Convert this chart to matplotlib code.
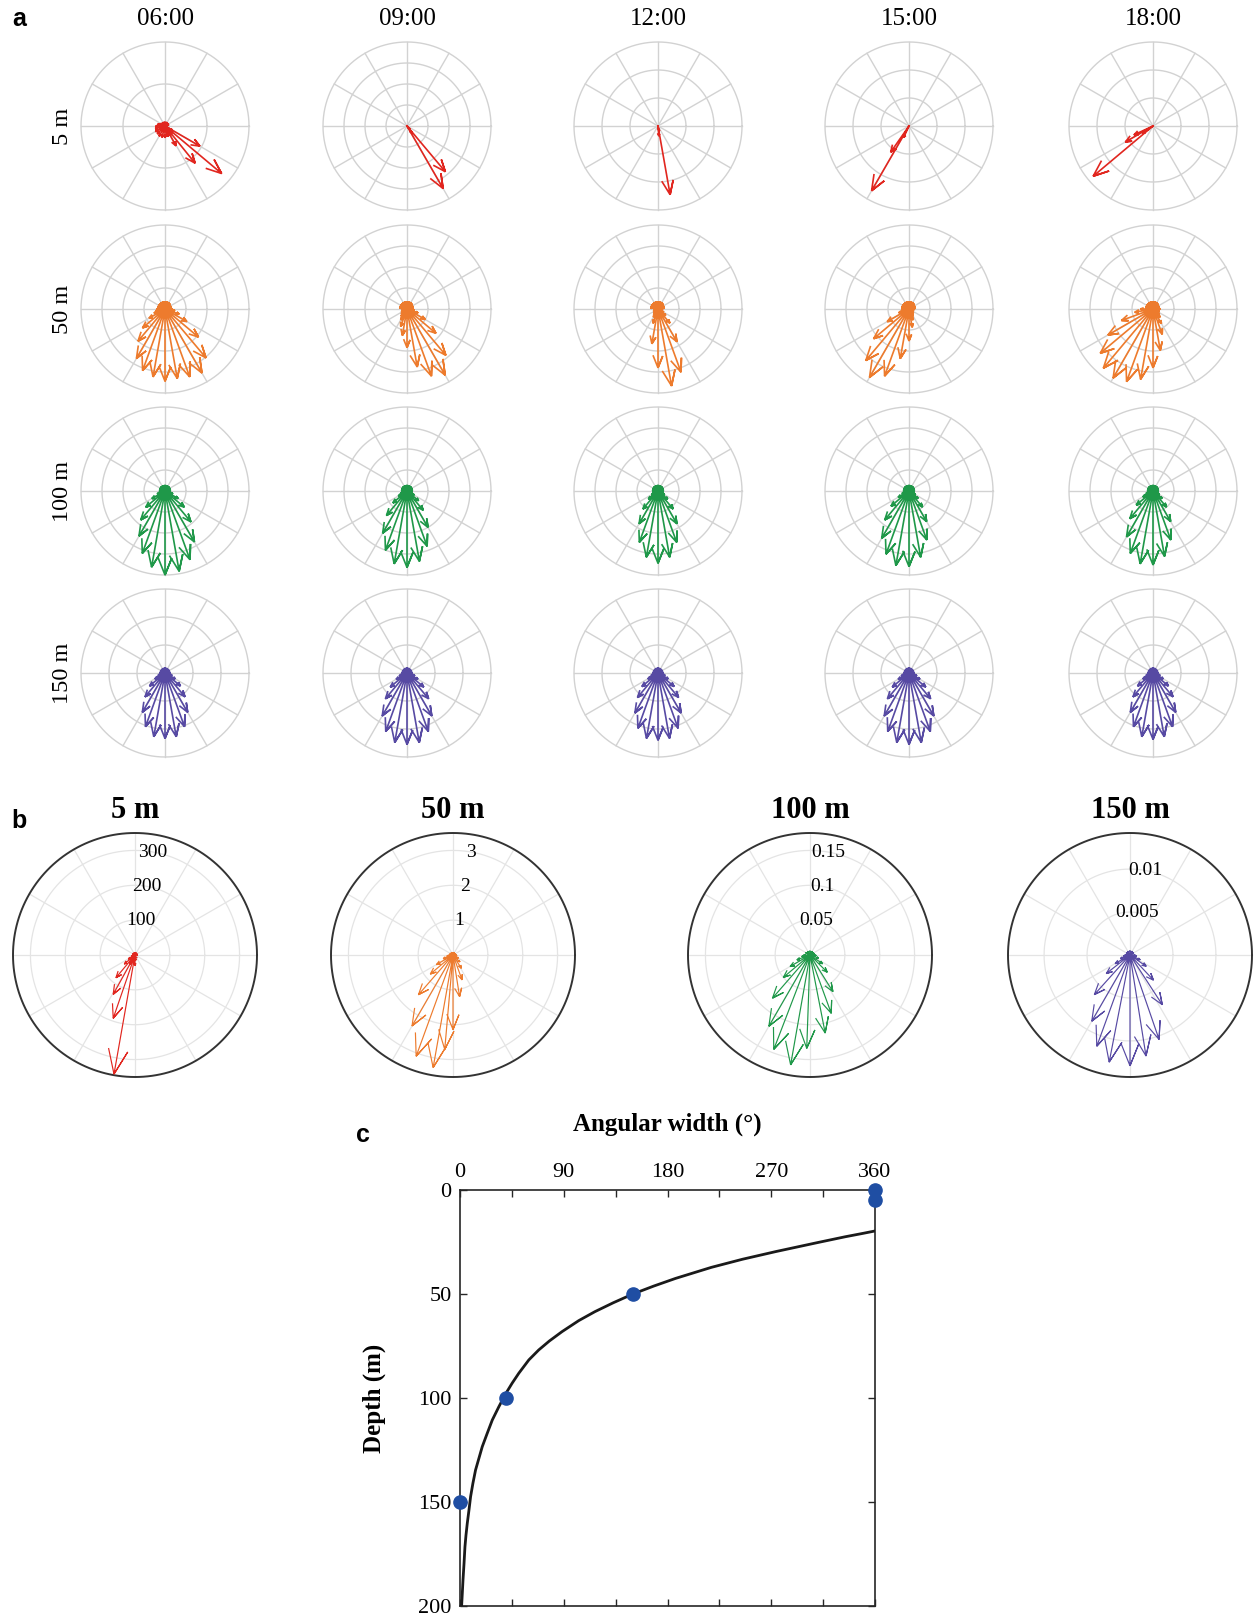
import numpy as np
import matplotlib
matplotlib.use('Agg')
import matplotlib.pyplot as plt

# ---------------- data ----------------
TIMES = ['06:00', '09:00', '12:00', '15:00', '18:00']
DEPTHS = ['5 m', '50 m', '100 m', '150 m']
COLORS = ['#e1261f', '#ed7b2d', '#1f9849', '#574aa3']

# panel a, 5 m: individual vectors (direction in deg, length as fraction of outer ring)
A5_DIRS = [
    [-30, -40, -51, -61, 150, 165, 180, 195, 210, 225, 240, 255, 270, 285, 300, 315, 330, 20, 45, 70, 100, 125],
    [-50, -60, -55, -45],
    [-80, -85, -75],
    [-120, -125, -115],
    [-140, -150, -155, -145],
]
A5_LENS = [
    [0.48, 0.88, 0.57, 0.27, 0.06, 0.09, 0.11, 0.12, 0.13, 0.13, 0.14, 0.14, 0.14, 0.13, 0.13, 0.12, 0.1, 0.05, 0.05, 0.05, 0.05, 0.05],
    [0.71, 0.86, 0.10, 0.05],
    [0.83, 0.12, 0.06],
    [0.89, 0.38, 0.15],
    [0.93, 0.38, 0.25, 0.15],
]

# panels a, 50/100/150 m: vectors every 10 deg
FAN_DIRS_LOW = [-180, -170, -160, -150, -140, -130, -120, -110, -100, -90,
                -80, -70, -60, -50, -40, -30, -20, -10, 0]
FAN_DIRS_UP = [10, 20, 30, 40, 50, 60, 70, 80, 90, 100, 110, 120, 130, 140, 150, 160, 170]

A50_LENS = [
    [0.10, 0.11, 0.14, 0.22, 0.35, 0.50, 0.68, 0.78, 0.82, 0.86, 0.84, 0.86, 0.88, 0.76, 0.52, 0.30, 0.18, 0.12, 0.09],
    [0.06, 0.06, 0.07, 0.08, 0.09, 0.11, 0.15, 0.22, 0.32, 0.46, 0.70, 0.85, 0.91, 0.72, 0.45, 0.25, 0.14, 0.09, 0.07],
    [0.05, 0.05, 0.06, 0.06, 0.07, 0.08, 0.11, 0.18, 0.42, 0.70, 0.93, 0.80, 0.45, 0.22, 0.12, 0.08, 0.06, 0.05, 0.05],
    [0.08, 0.09, 0.13, 0.30, 0.55, 0.80, 0.94, 0.85, 0.60, 0.38, 0.22, 0.14, 0.10, 0.08, 0.07, 0.06, 0.06, 0.06, 0.07],
    [0.15, 0.22, 0.40, 0.62, 0.82, 0.92, 0.95, 0.92, 0.85, 0.70, 0.50, 0.32, 0.20, 0.13, 0.10, 0.08, 0.08, 0.08, 0.09],
]
A50_BLOB = [0.08, 0.08, 0.08, 0.08, 0.09, 0.09, 0.09, 0.09, 0.09, 0.09, 0.09, 0.09, 0.09, 0.09, 0.09, 0.09, 0.09]

A100_LENS = [
    [0.06, 0.07, 0.10, 0.18, 0.30, 0.45, 0.62, 0.79, 0.92, 1.00, 0.97, 0.87, 0.70, 0.48, 0.30, 0.18, 0.10, 0.07, 0.06],
    [0.06, 0.06, 0.08, 0.12, 0.22, 0.38, 0.58, 0.75, 0.88, 0.91, 0.85, 0.70, 0.50, 0.30, 0.18, 0.10, 0.07, 0.06, 0.06],
    [0.06, 0.06, 0.07, 0.09, 0.15, 0.28, 0.45, 0.65, 0.80, 0.86, 0.80, 0.65, 0.45, 0.28, 0.15, 0.09, 0.07, 0.06, 0.06],
    [0.06, 0.07, 0.09, 0.15, 0.28, 0.45, 0.65, 0.80, 0.90, 0.90, 0.80, 0.62, 0.42, 0.25, 0.14, 0.09, 0.07, 0.06, 0.06],
    [0.06, 0.07, 0.09, 0.14, 0.26, 0.43, 0.63, 0.79, 0.88, 0.88, 0.79, 0.62, 0.42, 0.25, 0.14, 0.09, 0.07, 0.06, 0.06],
]
A100_BLOB = [0.07, 0.07, 0.07, 0.07, 0.07, 0.07, 0.07, 0.07, 0.07, 0.07, 0.07, 0.07, 0.07, 0.07, 0.07, 0.07, 0.07]

A150_LENS = [
    [0.06, 0.07, 0.09, 0.14, 0.24, 0.37, 0.54, 0.68, 0.77, 0.78, 0.77, 0.68, 0.54, 0.37, 0.24, 0.14, 0.09, 0.07, 0.06],
    [0.06, 0.07, 0.10, 0.15, 0.26, 0.40, 0.59, 0.74, 0.84, 0.85, 0.84, 0.74, 0.59, 0.40, 0.26, 0.15, 0.10, 0.07, 0.06],
    [0.06, 0.07, 0.09, 0.14, 0.25, 0.38, 0.55, 0.70, 0.79, 0.80, 0.79, 0.70, 0.55, 0.38, 0.25, 0.14, 0.09, 0.07, 0.06],
    [0.06, 0.07, 0.10, 0.15, 0.26, 0.40, 0.59, 0.74, 0.84, 0.85, 0.84, 0.74, 0.59, 0.40, 0.26, 0.15, 0.10, 0.07, 0.06],
    [0.06, 0.07, 0.09, 0.14, 0.24, 0.37, 0.54, 0.68, 0.77, 0.79, 0.77, 0.68, 0.54, 0.37, 0.24, 0.14, 0.09, 0.07, 0.06],
]
A150_BLOB = [0.06, 0.06, 0.06, 0.06, 0.06, 0.06, 0.06, 0.06, 0.06, 0.06, 0.06, 0.06, 0.06, 0.06, 0.06, 0.06, 0.06]

A_RINGS = [[2, 4, 3, 3, 3], [4, 4, 4, 4, 4], [4, 4, 4, 4, 4], [3, 3, 3, 3, 3]]

# panel b: vectors in physical units
B5_DIRS = [-100, -109, -119, -130, -140, -150, -90, -80, -160, -120, 170, 135, 90, 45, 0, -60]
B5_LENS = [347, 192, 129, 85, 40, 22, 30, 15, 12, 30, 8, 8, 8, 8, 8, 10]
B50_DIRS = [-170, -160, -150, -140, -131, -120, -110, -100, -95, -90, -81, -70, -58, -45, -30, -15,
            0, 30, 60, 90, 120, 150, 180]
B50_LENS = [0.18, 0.30, 0.55, 0.85, 1.51, 2.35, 3.09, 3.28, 2.72, 2.14, 1.21, 0.76, 0.45, 0.28, 0.18, 0.12,
            0.10, 0.08, 0.08, 0.08, 0.08, 0.10, 0.12]
B100_DIRS = [-170, -160, -150, -140, -131, -120, -111, -100, -92, -79, -70, -58, -45, -35, -20, -5,
             10, 30, 60, 90, 120, 150, 180]
B100_LENS = [0.012, 0.020, 0.033, 0.050, 0.082, 0.118, 0.145, 0.160, 0.134, 0.114, 0.089, 0.062, 0.035, 0.022, 0.013, 0.009,
             0.007, 0.006, 0.006, 0.006, 0.006, 0.007, 0.009]
B150_DIRS = [-170, -160, -150, -142, -132, -120, -110, -101, -90, -81, -71, -57, -47, -35, -25, -12,
             0, 30, 60, 90, 120, 150, 180]
B150_LENS = [0.0008, 0.0012, 0.0020, 0.0035, 0.0062, 0.0089, 0.0113, 0.0127, 0.0129, 0.0119, 0.0104, 0.0069, 0.0040, 0.0023, 0.0013, 0.0008,
             0.0006, 0.0005, 0.0005, 0.0005, 0.0005, 0.0005, 0.0006]
B_RMAX = [350, 3.5, 0.175, 0.0142]
B_RINGS = [[100, 200, 300], [1, 2, 3], [0.05, 0.1, 0.15], [0.005, 0.01]]
B_RING_LABELS = [['100', '200', '300'], ['1', '2', '3'], ['0.05', '0.1', '0.15'], ['0.005', '0.01']]

# panel c
CURVE_DEPTH = [19.7, 20.8, 22.5, 25.3, 29.6, 33.3, 37.2, 42.5, 46.2, 50.0, 54.2, 58.5, 62.8, 68.1, 72.6, 76.9,
               81.7, 88.1, 92.9, 97.8, 104.2, 110.6, 117.0, 123.4, 129.0, 134.6, 141.0, 147.4, 153.8,
               160.3, 165.9, 171.5, 179.5, 187.5, 193.9, 200.0]
CURVE_WIDTH = [360, 350, 334, 310, 274, 245, 218, 187, 168, 150, 133, 117, 103, 88.5, 77.5, 68.3,
               59.7, 51.0, 45.2, 39.8, 33.7, 28.0, 23.6, 19.3, 16.4, 13.5, 11.2, 9.2, 7.8,
               6.3, 5.2, 4.3, 3.5, 2.6, 2.0, 1.4]
POINT_DEPTH = [0, 5, 50, 100, 150]
POINT_WIDTH = [360, 360, 150, 40, 0]

# ---------------- drawing ----------------
W, H = 1260, 1617
fig = plt.figure(figsize=(W / 100, H / 100), dpi=100)
SERIF = ['Liberation Serif', 'DejaVu Serif']
SANS = ['Liberation Sans', 'DejaVu Sans']


def circ_axes(cx, cy, rpx, rmax):
    pad = 1.04
    h = rpx * pad
    ax = fig.add_axes([(cx - h) / W, 1 - (cy + h) / H, 2 * h / W, 2 * h / H])
    ax.set_xlim(-rmax * pad, rmax * pad)
    ax.set_ylim(-rmax * pad, rmax * pad)
    ax.set_aspect('equal')
    ax.axis('off')
    return ax


def draw_grid(ax, radii, rmax, color, lw):
    t = np.linspace(0, 2 * np.pi, 361)
    for r in radii:
        ax.plot(r * np.cos(t), r * np.sin(t), color=color, lw=lw, zorder=1)
    for a in range(0, 360, 30):
        ar = np.deg2rad(a)
        ax.plot([0, rmax * np.cos(ar)], [0, rmax * np.sin(ar)], color=color, lw=lw, zorder=1)


def draw_vectors(ax, dirs, lens, color, lw):
    z = np.asarray(lens, float) * np.exp(1j * np.deg2rad(np.asarray(dirs, float)))
    shape = np.array([0, 1, 0.8 + 0.08j, 1, 0.8 - 0.08j, np.nan])
    pts = (shape[None, :] * z[:, None]).ravel()
    ax.plot(pts.real, pts.imag, color=color, lw=lw, zorder=3, solid_joinstyle='miter')


# panel a
A_CX = [165, 407, 658, 909, 1153]
A_CY = [126, 309, 491, 673]
A_R = 84
fan_rows = [None, (A50_LENS, A50_BLOB), (A100_LENS, A100_BLOB), (A150_LENS, A150_BLOB)]
for i in range(4):
    for j in range(5):
        ax = circ_axes(A_CX[j], A_CY[i], A_R, 1.0)
        n = A_RINGS[i][j]
        draw_grid(ax, [k / n for k in range(1, n + 1)], 1.0, '#d2d2d2', 1.0)
        if i == 0:
            draw_vectors(ax, A5_DIRS[j], A5_LENS[j], COLORS[0], 1.2)
        else:
            lens, blob = fan_rows[i]
            draw_vectors(ax, FAN_DIRS_LOW + FAN_DIRS_UP, lens[j] + blob, COLORS[i], 1.2)

for j, t in enumerate(TIMES):
    fig.text(A_CX[j] / W, 1 - 19 / H, t, ha='center', va='center', fontsize=18, family=SERIF)
for i, d in enumerate(DEPTHS):
    fig.text(62 / W, 1 - A_CY[i] / H, d, ha='center', va='center', rotation=90, fontsize=17.5, family=SERIF)

fig.text(19 / W, 1 - 19 / H, 'a', ha='center', va='center', fontsize=18, fontweight='bold', family=SANS)

# panel b
B_CX = [135, 453, 810, 1130]
B_CY = 955
B_R = 122
B_D = [(B5_DIRS, B5_LENS), (B50_DIRS, B50_LENS), (B100_DIRS, B100_LENS), (B150_DIRS, B150_LENS)]
for k in range(4):
    rmax = B_RMAX[k]
    ax = circ_axes(B_CX[k], B_CY, B_R, rmax)
    draw_grid(ax, B_RINGS[k], rmax, '#e4e4e4', 0.9)
    t = np.linspace(0, 2 * np.pi, 361)
    ax.plot(rmax * np.cos(t), rmax * np.sin(t), color='#333333', lw=1.4, zorder=2)
    for rv, lab in zip(B_RINGS[k], B_RING_LABELS[k]):
        a = np.deg2rad(80)
        ax.text(rv * np.cos(a), rv * np.sin(a), lab, ha='center', va='center', fontsize=14,
                family=SERIF, zorder=4)
    draw_vectors(ax, B_D[k][0], B_D[k][1], COLORS[k], 0.85)
    fig.text(B_CX[k] / W, 1 - 810 / H, DEPTHS[k], ha='center', va='center', fontsize=22,
             fontweight='bold', family=SERIF)

fig.text(19 / W, 1 - 821 / H, 'b', ha='center', va='center', fontsize=18, fontweight='bold', family=SANS)

# panel c
axc = fig.add_axes([460 / W, 1 - 1606 / H, 415 / W, 416 / H])
axc.plot(CURVE_WIDTH, CURVE_DEPTH, color='#1a1a1a', lw=2.0, zorder=3, solid_joinstyle='round')
axc.plot(POINT_WIDTH, POINT_DEPTH, 'o', color='#1f4ea3', ms=9.5, clip_on=False, zorder=5)
axc.set_xlim(0, 360)
axc.set_ylim(200, 0)
axc.xaxis.tick_top()
axc.xaxis.set_label_position('top')
axc.set_xticks(np.arange(0, 361, 45))
axc.set_xticklabels(['0', '', '90', '', '180', '', '270', '', '360'])
axc.set_yticks([0, 50, 100, 150, 200])
axc.tick_params(direction='in', top=True, bottom=True, left=True, right=True, length=5, width=1.0,
                labelsize=16, pad=6, colors='#262626', labelcolor='black')
for lab in axc.get_xticklabels() + axc.get_yticklabels():
    lab.set_family(SERIF)
for s in axc.spines.values():
    s.set_linewidth(1.2)
    s.set_color('#262626')
axc.set_xlabel('Angular width (°)', fontsize=18, fontweight='bold', family=SERIF, labelpad=23)
axc.set_ylabel('Depth (m)', fontsize=18, fontweight='bold', family=SERIF, labelpad=23)

fig.text(363 / W, 1 - 1135 / H, 'c', ha='center', va='center', fontsize=18, fontweight='bold', family=SANS)

fig.savefig('out.png', dpi=100)
